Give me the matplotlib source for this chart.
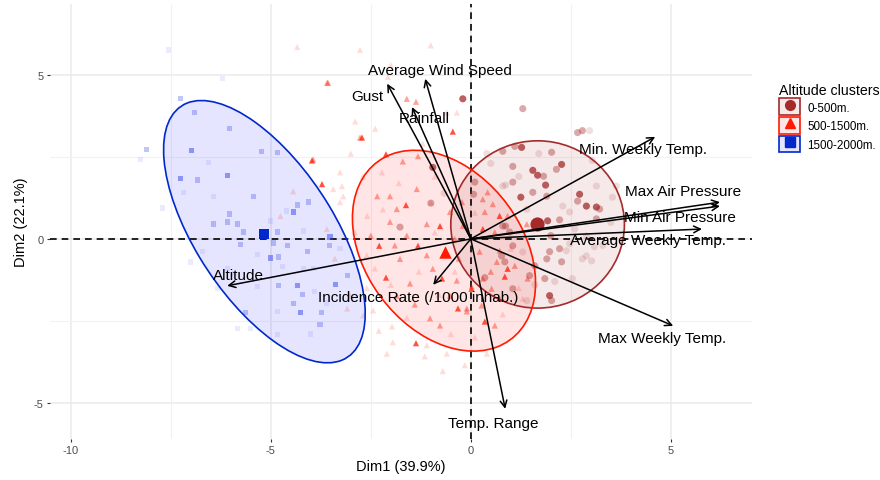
import matplotlib
matplotlib.use("Agg")
import matplotlib.pyplot as plt
from matplotlib.patches import Ellipse, Patch
from matplotlib.lines import Line2D

plt.rcParams['font.family'] = ['Liberation Sans', 'DejaVu Sans']
plt.rcParams['axes.unicode_minus'] = False

# individuals: (Dim1, Dim2, opacity level 1..3)
low_pts = [
    (-0.20, 4.27, 3), (1.30, 3.97, 2), (2.67, 3.24, 2), (2.79, 3.30, 2), (2.97, 3.30, 1),
    (0.80, 2.67, 2), (1.10, 2.82, 2), (1.27, 2.79, 3), (2.02, 2.64, 2), (1.05, 2.21, 2),
    (1.55, 2.09, 3), (1.67, 1.94, 3), (1.82, 1.91, 2), (2.14, 2.12, 2), (2.27, 2.27, 3),
    (1.05, 1.73, 2), (0.87, 1.64, 1), (1.87, 1.64, 3), (1.55, 1.42, 2), (1.25, 1.27, 3),
    (1.90, 1.30, 2), (2.72, 1.36, 3), (2.67, 1.15, 2), (2.89, 1.00, 3), (3.14, 0.97, 3),
    (3.22, 0.91, 2), (3.54, 1.27, 1), (3.14, 0.61, 2), (2.47, 0.82, 1), (1.92, 0.55, 3),
    (2.22, 0.58, 2), (0.87, 0.39, 2), (0.07, 1.36, 2), (3.04, 2.39, 1), (3.64, 1.61, 1),
    (0.80, 1.61, 1), (1.97, -0.39, 2), (2.22, -0.30, 2), (2.39, -0.36, 1), (1.90, -0.61, 2),
    (2.27, -0.70, 2), (3.02, -0.67, 1), (2.89, -0.52, 1), (1.60, -0.82, 2), (1.85, -1.21, 2),
    (2.10, -1.30, 1), (1.97, -1.73, 3), (2.02, -1.88, 2), (1.40, -1.88, 1), (2.47, -0.15, 1),
    (1.05, -0.21, 2), (0.77, -0.52, 2), (0.97, 0.21, 2), (0.80, 0.39, 2), (3.14, 1.61, 1),
    (2.89, 0.09, 1), (3.09, -0.24, 1), (2.79, -0.61, 1), (2.54, -1.21, 1), (-1.77, 0.36, 2),
    (-0.95, 2.18, 3), (-1.00, 1.09, 2), (-0.67, 1.39, 1), (0.10, 1.73, 2), (0.35, -1.18, 2),
    (0.85, -0.70, 2), (1.47, -1.12, 2), (1.05, -1.52, 2), (2.30, 1.00, 1), (1.40, 0.90, 1),
    (2.60, 0.30, 1), (1.30, -0.40, 1), (0.50, 2.30, 1), (3.30, -0.20, 1), (2.00, 0.10, 2),
    (1.20, 1.90, 1), (1.70, 2.60, 1), (0.40, 2.60, 1), (1.60, -1.40, 1), (3.50, 0.50, 1),
]
mid_pts = [
    (-2.77, 5.76, 1), (-3.57, 4.76, 2), (-2.07, 4.94, 1), (-1.60, 4.27, 2), (-1.37, 4.18, 2),
    (-2.89, 3.58, 1), (-2.39, 3.36, 1), (-2.72, 3.09, 3), (-0.60, 3.85, 1), (-0.35, 3.85, 1),
    (-0.45, 3.27, 3), (-2.12, 2.58, 3), (-1.32, 2.52, 2), (-1.70, 2.36, 2), (-3.94, 2.42, 2),
    (-3.72, 1.67, 3), (-3.27, 2.03, 1), (-3.19, 1.30, 1), (-2.22, 2.03, 1), (-3.22, 1.61, 1),
    (-2.34, 1.30, 2), (-2.02, 1.30, 2), (-1.62, 1.03, 3), (-1.85, 0.91, 2), (-1.35, 1.52, 2),
    (-0.77, 0.39, 3), (-1.10, 0.45, 2), (-2.59, 0.70, 1), (-3.27, 1.12, 1), (-3.44, 1.52, 1),
    (-0.52, 0.82, 2), (-0.22, 1.12, 2), (-2.02, 0.52, 2), (-2.29, -0.21, 3), (-1.32, -0.21, 3),
    (-1.77, -0.61, 2), (-2.12, -1.18, 3), (-1.52, -1.36, 2), (-0.72, -1.21, 3), (-0.35, -1.27, 2),
    (0.02, -1.52, 3), (0.30, -1.21, 2), (-1.40, -2.00, 2), (-0.32, -2.12, 3), (-0.10, -2.21, 2),
    (0.35, -2.52, 3), (-1.37, -3.18, 3), (-1.95, -3.15, 1), (-1.10, -3.24, 1), (-1.15, -3.58, 1),
    (-0.70, -4.03, 1), (-0.15, -3.85, 1), (-0.95, -0.91, 2), (-0.52, -1.73, 2), (-1.85, -1.73, 2),
    (-2.44, -2.18, 1), (-2.69, -2.33, 1), (-1.97, -2.67, 1), (-0.77, -2.64, 2), (-1.02, -2.42, 2),
    (0.60, -2.64, 2), (0.72, -1.82, 2), (0.42, 1.42, 2), (0.30, 1.21, 2), (0.55, 1.06, 2),
    (0.72, 0.70, 3), (0.35, 0.82, 2), (0.92, 0.70, 2), (1.40, 0.45, 2), (0.30, 0.30, 3),
    (0.92, -0.91, 3), (1.10, -0.82, 2), (0.85, -1.15, 3), (0.02, -1.45, 2), (0.52, -1.52, 2),
    (-0.10, -2.12, 2), (0.27, -2.03, 2), (1.30, -1.82, 1), (1.42, -1.21, 2), (0.22, -0.39, 2),
    (0.72, -0.36, 2), (0.65, -0.70, 2), (-3.97, 2.39, 3), (-3.59, 4.76, 2), (-2.77, 3.09, 2),
    (-4.34, 5.85, 1), (-4.76, 0.70, 1), (-4.44, 1.45, 1), (-3.09, -2.12, 1), (-3.02, -1.73, 1),
    (-2.60, -0.50, 1), (-2.90, 0.20, 1), (-2.50, 0.10, 2), (-1.60, 0.10, 2), (-1.10, -0.50, 2),
    (-0.30, -0.60, 2), (-0.20, 0.40, 2), (-1.30, -1.00, 1), (-2.00, -1.40, 1), (-0.80, -1.70, 1),
    (-2.60, -1.50, 1), (-1.60, -2.40, 1), (-0.50, -2.90, 1), (-2.30, -2.80, 1), (0.10, -3.00, 1),
    (-1.80, 1.70, 1), (-2.70, 1.90, 1), (-0.90, 1.90, 1), (-1.20, 2.90, 1), (-3.00, 2.60, 1),
    (-2.20, 0.90, 1), (-1.00, 1.10, 1), (0.10, 0.80, 1), (0.60, 0.20, 2), (1.00, -0.30, 1),
    (1.20, -1.50, 1), (0.80, -2.30, 1), (-0.60, -3.50, 1), (-3.40, -0.60, 1), (-3.60, 0.30, 1),
    (-2.10, -3.50, 1), (0.40, -3.50, 1), (-1.00, 5.90, 1), (-2.00, 5.30, 1), (-0.40, 0.00, 2),
    (-1.90, -0.20, 2), (-0.90, 0.20, 1), (-2.40, -0.90, 1), (0.50, -1.00, 2), (-0.40, -1.00, 1),
]
high_pts = [
    (-7.56, 5.76, 1), (-6.21, 4.88, 1), (-7.26, 4.27, 2), (-6.91, 3.85, 2), (-6.03, 3.36, 2),
    (-8.10, 2.73, 2), (-6.98, 2.70, 3), (-5.24, 2.67, 2), (-4.84, 2.63, 2), (-8.25, 2.42, 1),
    (-6.56, 2.33, 1), (-6.08, 1.94, 3), (-7.26, 1.85, 3), (-6.83, 1.79, 2), (-7.18, 1.42, 1),
    (-6.43, 1.30, 1), (-5.44, 1.30, 2), (-7.71, 0.94, 1), (-6.03, 0.76, 2), (-4.44, 0.82, 3),
    (-4.34, 1.03, 2), (-4.06, 1.12, 2), (-6.08, 0.52, 2), (-5.84, 0.45, 2), (-6.43, 0.45, 2),
    (-5.69, 0.21, 2), (-4.84, 0.21, 2), (-4.19, 0.24, 1), (-3.52, 0.06, 3), (-5.76, -0.18, 2),
    (-4.94, -0.12, 2), (-4.59, -0.21, 2), (-4.09, -0.39, 2), (-3.54, -0.21, 2), (-3.27, -0.30, 1),
    (-5.34, -0.48, 1), (-5.01, -0.58, 3), (-4.81, -0.55, 2), (-4.19, -0.91, 1), (-3.94, -0.91, 1),
    (-3.09, -1.12, 2), (-6.08, -0.91, 1), (-4.81, -1.42, 2), (-4.34, -1.42, 3), (-3.39, -1.39, 3),
    (-5.34, -1.45, 1), (-4.21, -1.70, 2), (-4.44, -1.97, 2), (-5.64, -2.24, 2), (-4.84, -2.21, 1),
    (-4.26, -2.24, 3), (-3.74, -2.24, 2), (-3.77, -2.61, 2), (-5.84, -2.73, 1), (-5.51, -2.73, 1),
    (-4.84, -2.91, 1), (-7.01, -0.70, 1), (-6.71, -0.39, 1), (-6.33, -1.52, 1), (-5.00, 0.55, 1),
    (-4.60, 0.85, 1), (-3.90, -1.60, 1), (-5.90, -1.05, 1), (-4.70, -0.85, 1), (-3.60, -1.95, 1),
    (-4.00, -2.90, 1),
]

# group means and concentration ellipses (center x, center y, width, height, angle)
means = [(1.65, 0.45), (-0.65, -0.39), (-5.16, 0.15)]
ellipses = [(1.67, 0.44, 4.34, 5.10, 0.0),
            (-0.67, -0.36, 6.44, 4.12, -66.2),
            (-5.16, 0.22, 8.74, 3.60, -63.7)]

groups = ['0-500m.', '500-1500m.', '1500-2000m.']
colors = ['#A52A2A', '#FF1A00', '#0028CC']
pt_colors = ['#A52A2A', '#FF1A00', '#3344EE']
fills = ['#A52A2A', '#FF0000', '#0000FF']
markers = ['o', '^', 's']
sizes = [26, 20, 15]

# variable arrows (end points) and label positions
variables = ['Average Wind Speed', 'Gust', 'Rainfall', 'Min. Weekly Temp.',
             'Max Air Pressure', 'Min Air Pressure', 'Average Weekly Temp.',
             'Max Weekly Temp.', 'Temp. Range', 'Incidence Rate (/1000 inhab.)', 'Altitude']
arrow_x = [-1.14, -2.09, -1.47, 4.61, 6.23, 6.23, 5.78, 5.06, 0.86, -0.94, -6.09]
arrow_y = [4.88, 4.73, 4.02, 3.11, 1.12, 1.00, 0.30, -2.65, -5.18, -1.40, -1.43]
label_x = [-0.77, -2.59, -1.17, 4.31, 5.31, 5.23, 4.43, 4.78, 0.56, -1.32, -5.82]
label_y = [5.15, 4.36, 3.69, 2.74, 1.46, 0.67, -0.03, -3.02, -5.61, -1.77, -1.10]

alpha_lv = [{1: 0.15, 2: 0.4, 3: 0.75},
            {1: 0.15, 2: 0.4, 3: 0.75},
            {1: 0.1, 2: 0.3, 3: 0.5}]

fig = plt.figure(figsize=(8.8, 4.81), dpi=100)
ax = fig.add_axes([50/880, 1-440/481, 702/880, 435/481])

for (cx, cy, w, h, ang), c, f in zip(ellipses, colors, fills):
    ax.add_patch(Ellipse((cx, cy), w, h, angle=ang, facecolor=f, alpha=0.1, edgecolor='none', zorder=1))
    ax.add_patch(Ellipse((cx, cy), w, h, angle=ang, facecolor='none', edgecolor=c, lw=1.2, zorder=4))

for pts, c, m, s, lv in zip([low_pts, mid_pts, high_pts], pt_colors, markers, sizes, alpha_lv):
    xs = [p[0] for p in pts]
    ys = [p[1] for p in pts]
    al = [lv[p[2]] for p in pts]
    ax.scatter(xs, ys, s=s, marker=m, color=c, alpha=al, linewidths=0, zorder=3)

for (mx, my), c, m, s in zip(means, colors, markers, sizes):
    ax.scatter([mx], [my], s=s*4, marker=m, color=c, linewidths=0, zorder=5)

ax.axhline(0, color='black', lw=1.2, ls=(0, (4, 3)), zorder=2)
ax.axvline(0, color='black', lw=1.2, ls=(0, (4, 3)), zorder=2)

for name, ex, ey, lx, ly in zip(variables, arrow_x, arrow_y, label_x, label_y):
    ax.annotate('', xy=(ex, ey), xytext=(0, 0),
                arrowprops=dict(arrowstyle='->', lw=1.1, color='black',
                                shrinkA=0, shrinkB=0, mutation_scale=12), zorder=6)
    ax.text(lx, ly, name, fontsize=11, ha='center', va='center', color='black', zorder=7)

ax.set_xlim(-10.52, 7.03)
ax.set_ylim(-6.1, 7.16)
ax.set_xticks([-10, -5, 0, 5])
ax.set_yticks([-5, 0, 5])
ax.set_xticks([-7.5, -2.5, 2.5], minor=True)
ax.set_yticks([-2.5, 2.5], minor=True)
ax.grid(True, which='major', color='#EBEBEB', lw=1.1, zorder=0)
ax.grid(True, which='minor', color='#F2F2F2', lw=0.8, zorder=0)
ax.set_axisbelow(True)
for sp in ax.spines.values():
    sp.set_visible(False)
ax.tick_params(which='major', length=2.5, width=0.8, color='#333333', labelcolor='#4D4D4D', labelsize=8, pad=2)
ax.tick_params(which='minor', length=0)
ax.set_xlabel('Dim1 (39.9%)', fontsize=10.5, labelpad=3)
ax.set_ylabel('Dim2 (22.1%)', fontsize=10.5, labelpad=4)

handles = []
for c, f, m in zip(colors, fills, markers):
    box = Patch(facecolor=(*matplotlib.colors.to_rgb(f), 0.1), edgecolor=c, lw=1.2)
    mk = Line2D([], [], marker=m, color=c, ls='None', markersize=7)
    handles.append((box, mk))
leg = fig.legend(handles, groups, title='Altitude clusters', loc='upper left',
                 bbox_to_anchor=(773/880, 1-78/481), frameon=False, fontsize=8.4,
                 title_fontsize=10.2, handlelength=1.85, handleheight=1.85,
                 labelspacing=0.14, handletextpad=0.6, borderpad=0, alignment='left')

fig.savefig('out.png', dpi=100)
